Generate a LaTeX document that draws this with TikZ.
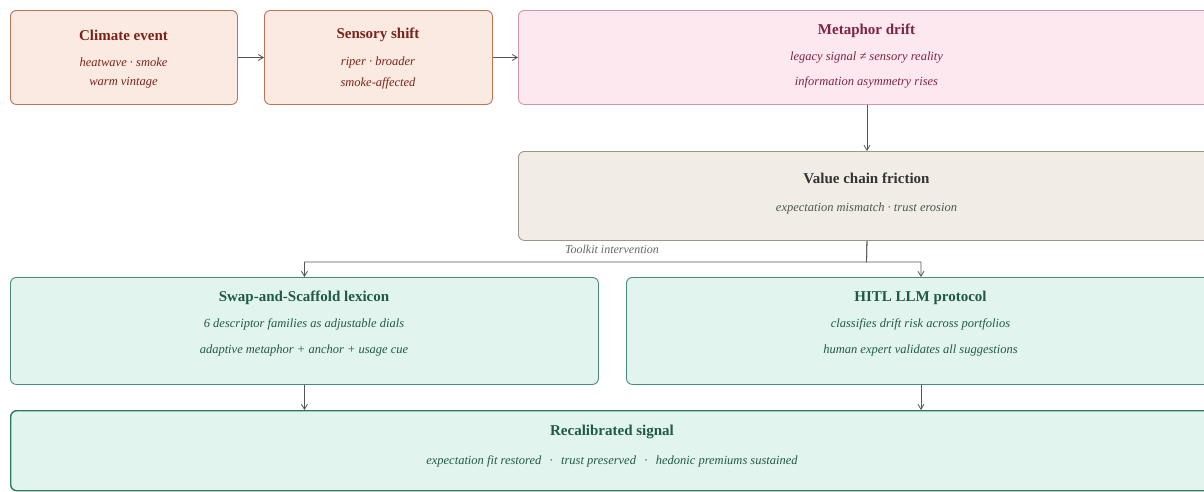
\documentclass[tikz,border=0pt]{standalone}
\usepackage{fontspec}
\setmainfont{Liberation Serif}
\usetikzlibrary{arrows.meta}
\definecolor{warmfill}{HTML}{FBEAE2}
\definecolor{warmdraw}{HTML}{BF7458}
\definecolor{warmtxt}{HTML}{7A2418}
\definecolor{pinkfill}{HTML}{FCE8EE}
\definecolor{pinkdraw}{HTML}{CD97A6}
\definecolor{pinktxt}{HTML}{7E2344}
\definecolor{greyfill}{HTML}{F1EDE6}
\definecolor{greydraw}{HTML}{9B958B}
\definecolor{greytxt}{HTML}{333333}
\definecolor{greenfill}{HTML}{E2F4EE}
\definecolor{greendraw}{HTML}{4A8D74}
\definecolor{greendark}{HTML}{2E7A60}
\definecolor{greentxt}{HTML}{1F5A47}
\definecolor{arrgrey}{HTML}{555555}
\tikzset{
  x=1pt,y=-1pt,
  box/.style={draw, line width=0.9pt, rounded corners=6pt, anchor=north west, inner sep=0pt},
  warmbox/.style={box, fill=warmfill, draw=warmdraw},
  pinkbox/.style={box, fill=pinkfill, draw=pinkdraw},
  greybox/.style={box, fill=greyfill, draw=greydraw},
  greenbox/.style={box, fill=greenfill, draw=greendraw},
  ttl/.style={font=\fontsize{15}{17}\selectfont\bfseries, inner sep=0pt},
  sub/.style={font=\fontsize{12.5}{14}\selectfont\itshape, inner sep=0pt},
  arr/.style={draw=arrgrey, line width=0.8pt, -{Straight Barb[length=5pt,width=6pt]}},
}
\begin{document}
\begin{tikzpicture}
\useasboundingbox (0,0) rectangle (1204,491);
\clip (0,0) rectangle (1204,491);
\fill[white] (0,0) rectangle (1204,491);
% boxes
\node[warmbox, minimum width=227pt, minimum height=94pt] (ce) at (10,10) {};
\node[warmbox, minimum width=228pt, minimum height=94pt] (ss) at (264,10) {};
\node[pinkbox, minimum width=697pt, minimum height=94pt] (md) at (518,10) {};
\node[greybox, minimum width=697pt, minimum height=89pt] (vc) at (518,151) {};
\node[greenbox, minimum width=588pt, minimum height=107pt] (sw) at (10,277) {};
\node[greenbox, minimum width=589pt, minimum height=107pt] (hl) at (626,277) {};
\node[greenbox, draw=greendark, line width=1.4pt, minimum width=1204pt, minimum height=80pt] (rc) at (10,410) {};
% texts
\node[ttl, text=warmtxt] (ceT) at (123.5,35) {Climate event};
\node[sub, text=warmtxt] (ceA) at (123.5,62) {heatwave · smoke};
\node[sub, text=warmtxt] (ceB) at (123.5,83) {warm vintage};
\node[ttl, text=warmtxt] (ssT) at (378,35) {Sensory shift};
\node[sub, text=warmtxt] (ssA) at (378,62) {riper · broader};
\node[sub, text=warmtxt] (ssB) at (378,83) {smoke-affected};
\node[ttl, text=pinktxt] (mdT) at (866.5,31) {Metaphor drift};
\node[sub, text=pinktxt] (mdA) at (866.5,58) {legacy signal ≠ sensory reality};
\node[sub, text=pinktxt] (mdB) at (866.5,82) {information asymmetry rises};
\node[ttl, text=greytxt] (vcT) at (866.5,178) {Value chain friction};
\node[sub, text=greytxt!85] (vcA) at (866.5,208) {expectation mismatch · trust erosion};
\node[ttl, text=greentxt] (swT) at (304,298) {Swap-and-Scaffold lexicon};
\node[sub, text=greentxt] (swA) at (304,324) {6 descriptor families as adjustable dials};
\node[sub, text=greentxt] (swB) at (304,350) {adaptive metaphor + anchor + usage cue};
\node[ttl, text=greentxt] (hlT) at (920.5,298) {HITL LLM protocol};
\node[sub, text=greentxt] (hlA) at (920.5,324) {classifies drift risk across portfolios};
\node[sub, text=greentxt] (hlB) at (920.5,350) {human expert validates all suggestions};
\node[ttl, text=greentxt] (rcT) at (612,432) {Recalibrated signal};
\node[sub, text=greentxt] (rcA) at (612,461) {expectation fit restored \ \,·\ \, trust preserved \ \,·\ \, hedonic premiums sustained};
\node[sub, text=arrgrey!90, font=\fontsize{12}{14}\selectfont\itshape] (tk) at (612,249) {Toolkit intervention};
% connectors
\draw[arr] (ce.east) -- (ss.west);
\draw[arr] (ss.east) -- (md.west);
\draw[arr] (md.south) -- (vc.north);
\coordinate (j) at (866.5,262);
\draw[arr] (vc.south) -- (j) -| (sw.north);
\draw[arr] (vc.south) -- (j) -| (hl.north);
\draw[arr] (sw.south) -- (sw.south |- rc.north);
\draw[arr] (hl.south) -- (hl.south |- rc.north);
\end{tikzpicture}
\end{document}
